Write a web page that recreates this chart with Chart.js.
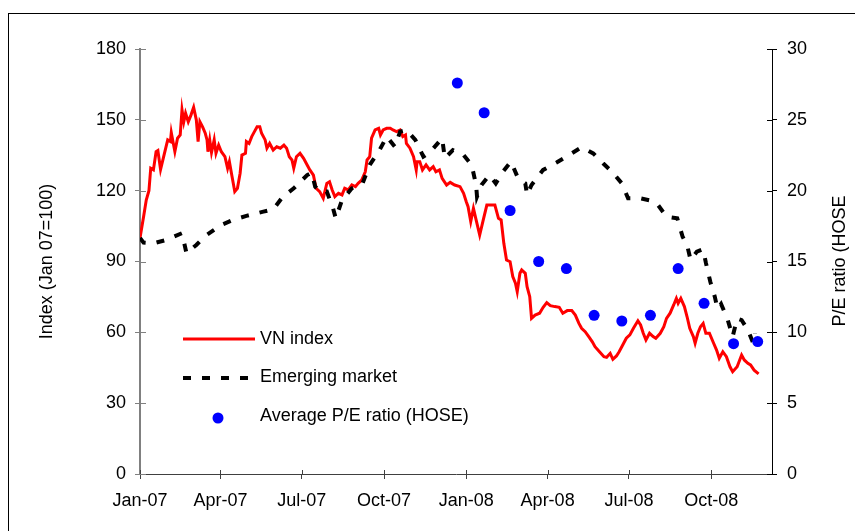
<!DOCTYPE html>
<html>
<head>
<meta charset="utf-8">
<script src="https://cdn.jsdelivr.net/npm/chart.js@4.4.1/dist/chart.umd.min.js"></script>
<style>
  html, body { margin: 0; padding: 0; background: #ffffff; }
  #c { display: block; }
</style>
</head>
<body>
<canvas id="c" width="855" height="531"></canvas>
<script>
// ---- Data (x = days since 1 Jan 2007) ----
const tickDays = [0, 90, 181, 273, 365, 456, 547, 639];
const tickLabels = ['Jan-07', 'Apr-07', 'Jul-07', 'Oct-07', 'Jan-08', 'Apr-08', 'Jul-08', 'Oct-08'];
const leftTicks = [0, 30, 60, 90, 120, 150, 180];
const rightTicks = [0, 5, 10, 15, 20, 25, 30];

const vnDays = [
  0,4,7,10,12,15,18,20,23,26,
  31,34,35,39,42,45,47,49,51,54,
  57,60,63,65,67,70,73,75,76,78,
  80,83,85,88,91,95,98,100,103,106,
  109,112,114,118,119,122,125,128,131,134,
  136,140,142,145,149,153,157,161,164,167,
  170,172,175,179,183,187,190,194,197,201,
  205,209,212,215,218,222,226,229,233,237,
  241,244,248,252,254,257,259,263,267,269,
  272,276,280,283,287,291,294,297,298,302,
  306,309,310,313,316,320,324,328,331,335,
  338,343,347,352,358,362,365,367,370,373,
  376,380,384,388,397,401,404,407,410,414,
  417,420,422,425,427,431,433,436,438,442,
  447,451,455,459,464,469,473,478,483,487,
  491,494,498,502,506,509,514,519,522,526,
  529,533,536,540,544,548,552,557,560,563,
  566,570,574,577,582,586,589,593,597,600,
  602,605,609,612,615,619,621,624,627,630,
  633,637,641,645,648,652,656,660,663,668,
  673,676,680,683,687,692
];
const vnValues = [
  100,109,116,120,129.5,128.8,136.5,137,129,133.7,
  141.5,140.8,144.6,136.5,142.2,143.6,154.2,149.2,152.8,149.2,
  152,155.3,150,140.8,149.2,147,144.3,141.5,136.5,141.5,
  136.2,141.5,135.8,139.3,136.5,134.4,129.5,132.3,125.9,119.6,
  121,127.4,135.1,135.8,140.8,140,142.9,145,147.1,147.1,
  144.3,141.5,138,140,137.2,138.6,138,139.3,138,134.4,
  133,129.5,134.4,135.8,133.7,130.9,128.8,126.6,121,119.6,
  116.8,123.1,123.8,120.3,117.5,118.9,118.2,121,120.3,122.4,
  121.7,123.1,124.5,128,133,134.4,142.2,145.7,146.4,143.6,
  145.7,146.4,146.4,145.7,145,145.7,142.9,143.6,140,138,
  134.4,128.8,132.3,132.3,128.8,130.9,128.8,130.2,128,128.8,
  125.2,122.4,123.5,122.4,121.7,118.9,115.3,113.2,106.9,112.5,
  107.6,101.2,107.6,113.9,113.9,108.3,107.6,97.7,90.6,89.9,
  83.6,80.8,77.2,85,86.4,85,79.3,75.1,65.9,67.3,
  68.1,70.6,72.6,71.3,70.9,70.6,68.1,69.2,69.2,67.3,
  63.8,61.7,60.3,58.2,56,53.9,51.8,49.7,49.4,51.1,
  48.6,50,51.8,54.6,57.5,58.9,61.7,64.9,63.1,59.6,
  56.8,59.6,58.2,57.5,59.6,62.4,65.9,68.1,71.6,74.4,
  72.3,74.4,70.9,66.6,61.7,58.2,55.4,59.6,62.4,63.8,
  59.6,59.6,56,52.5,49,51.8,49.7,45.4,43.3,45.4,
  50.4,48.3,46.9,46.2,44,42.4
];

const emDays = [
  0,4,15,29,47,52,63,73,91,104,
  119,138,149,160,172,187,192,196,201,209,
  216,219,226,237,249,257,268,276,285,291,
  298,308,317,324,338,341,350,362,371,376,
  377,382,391,398,406,415,423,431,433,438,
  451,466,480,494,507,518,528,539,546,559,
  571,578,589,601,607,612,616,623,630,633,
  638,643,646,650,657,663,668,673,680,686,
  688
];
const emValues = [
  100,98,97.7,99.1,102,93.5,97,100.8,105.5,107.6,
  109.3,111.1,112.1,117.5,121,126.6,127.6,121.7,119.6,119.6,
  112.5,108.3,116,121,123.1,130.9,137.2,142.9,138.6,145,
  145.7,141.5,134.4,136.1,142.2,133.7,137.2,135.1,130.9,122.4,
  117.5,122.4,126.6,123.1,128,132.3,125.2,123.1,118.2,122.4,
  128.8,131.9,135.1,138.4,135.8,131.6,128,123.1,116.8,116.8,
  115.8,114.7,109,108.3,100.5,97,90.6,94.2,95.2,89.5,
  81.4,75.1,70,72,65.9,58.2,65.9,65.2,61,55.4,
  59.6
];

const peDays = [355, 385, 414, 446, 477, 508, 539, 571, 602, 631, 664, 691];
const peValues = [27.6, 25.5, 18.6, 15.0, 14.5, 11.2, 10.8, 11.2, 14.5, 12.05, 9.2, 9.35];

const leftTitle = 'Index (Jan 07=100)';
const rightTitle = 'P/E ratio (HOSE';
const seriesNames = ['VN index', 'Emerging market', 'Average P/E ratio (HOSE)'];

// ---- Chart ----
const FONT = '"Liberation Sans", Arial, sans-serif';
Chart.defaults.font.family = FONT;
Chart.defaults.font.size = 18;
Chart.defaults.color = '#000000';

const toXY = (xs, ys) => xs.map((x, i) => ({ x: x, y: ys[i] }));

const innerTicks = {
  id: 'innerTicks',
  afterDraw(chart) {
    const ctx = chart.ctx;
    const sx = chart.scales.x, yl = chart.scales.y, yr = chart.scales.y1;
    ctx.save();
    ctx.lineWidth = 1;
    ctx.strokeStyle = '#808080';
    yl.ticks.forEach(t => {
      const p = Math.round(yl.getPixelForValue(t.value)) + 0.5;
      ctx.beginPath(); ctx.moveTo(yl.right, p); ctx.lineTo(yl.right + 6, p); ctx.stroke();
    });
    ctx.strokeStyle = '#000000';
    yr.ticks.forEach(t => {
      const p = Math.round(yr.getPixelForValue(t.value)) + 0.5;
      ctx.beginPath(); ctx.moveTo(yr.left, p); ctx.lineTo(yr.left - 5, p); ctx.stroke();
    });
    ctx.strokeStyle = '#404040';
    sx.ticks.forEach(t => {
      const p = Math.round(sx.getPixelForValue(t.value)) + 0.5;
      ctx.beginPath(); ctx.moveTo(p, sx.top); ctx.lineTo(p, sx.top - 4); ctx.stroke();
    });
    ctx.restore();
  }
};

const legendAndFrame = {
  id: 'legendAndFrame',
  afterDraw(chart) {
    const ctx = chart.ctx;
    const ds = chart.data.datasets;
    ctx.save();
    // outer frame
    ctx.strokeStyle = '#000000';
    ctx.lineWidth = 1;
    ctx.strokeRect(8.5, 13.5, 900, 600);
    // right axis title
    ctx.font = '18px ' + FONT;
    ctx.fillStyle = '#000000';
    ctx.save();
    ctx.translate(840, 261);
    ctx.rotate(-Math.PI / 2);
    ctx.textAlign = 'center';
    ctx.textBaseline = 'middle';
    ctx.fillText(rightTitle, 0, 0);
    ctx.restore();
    // legend
    const vn = ds.find(d => d.label === seriesNames[0]);
    const em = ds.find(d => d.label === seriesNames[1]);
    const pe = ds.find(d => d.label === seriesNames[2]);
    const x0 = 183, x1 = 255, tx = 260;
    ctx.textAlign = 'left';
    ctx.textBaseline = 'middle';
    ctx.lineCap = 'butt';
    ctx.strokeStyle = vn.borderColor; ctx.lineWidth = vn.borderWidth;
    ctx.beginPath(); ctx.moveTo(x0, 339); ctx.lineTo(x1, 339); ctx.stroke();
    ctx.fillText(vn.label, tx, 339);
    ctx.strokeStyle = em.borderColor; ctx.lineWidth = em.borderWidth;
    ctx.setLineDash(em.borderDash);
    ctx.beginPath(); ctx.moveTo(x0, 378); ctx.lineTo(x1, 378); ctx.stroke();
    ctx.setLineDash([]);
    ctx.fillText(em.label, tx, 377);
    ctx.fillStyle = pe.backgroundColor;
    ctx.beginPath(); ctx.arc(218, 418, pe.pointRadius, 0, Math.PI * 2); ctx.fill();
    ctx.fillStyle = '#000000';
    ctx.fillText(pe.label, tx, 416);
    ctx.restore();
  }
};

new Chart(document.getElementById('c'), {
  type: 'line',
  data: {
    datasets: [
      {
        label: seriesNames[2],
        data: toXY(peDays, peValues),
        yAxisID: 'y1',
        showLine: false,
        pointRadius: 5.5,
        pointHoverRadius: 5.5,
        pointBorderWidth: 0,
        backgroundColor: '#0000ff',
        borderColor: '#0000ff',
        order: 0
      },
      {
        label: seriesNames[1],
        data: toXY(emDays, emValues),
        yAxisID: 'y',
        borderColor: '#000000',
        borderWidth: 4,
        borderDash: [8, 11],
        pointRadius: 0,
        tension: 0,
        fill: false,
        order: 1
      },
      {
        label: seriesNames[0],
        data: toXY(vnDays, vnValues),
        yAxisID: 'y',
        borderColor: '#ff0000',
        borderWidth: 3,
        pointRadius: 0,
        tension: 0,
        fill: false,
        order: 2
      }
    ]
  },
  options: {
    responsive: false,
    animation: false,
    devicePixelRatio: 1,
    layout: { padding: { top: 49, left: 0, right: 0, bottom: 0 } },
    plugins: { legend: { display: false }, tooltip: { enabled: false } },
    scales: {
      x: {
        type: 'linear',
        min: 0,
        max: 707,
        afterBuildTicks: s => { s.ticks = tickDays.map(v => ({ value: v })); },
        afterFit: s => { s.height = 57; },
        ticks: {
          callback: (v, i) => tickLabels[i],
          autoSkip: false,
          maxRotation: 0,
          padding: 11,
          color: '#000000'
        },
        grid: { drawOnChartArea: false, drawTicks: true, tickLength: 5, color: '#404040' },
        border: { display: true, color: '#404040', width: 1 }
      },
      y: {
        position: 'left',
        min: 0,
        max: 180,
        afterBuildTicks: s => { s.ticks = leftTicks.map(v => ({ value: v })); },
        afterFit: s => { s.width = 140; },
        ticks: { padding: 9, color: '#000000' },
        title: { display: true, text: leftTitle, padding: { top: 36, bottom: 0 }, color: '#000000' },
        grid: { drawOnChartArea: false, drawTicks: true, tickLength: 5, color: '#808080' },
        border: { display: true, color: '#808080', width: 2 }
      },
      y1: {
        position: 'right',
        min: 0,
        max: 30,
        afterBuildTicks: s => { s.ticks = rightTicks.map(v => ({ value: v })); },
        afterFit: s => { s.width = 83; },
        ticks: { padding: 10, color: '#000000' },
        grid: { drawOnChartArea: false, drawTicks: true, tickLength: 5, color: '#000000' },
        border: { display: true, color: '#000000', width: 1 }
      }
    }
  },
  plugins: [innerTicks, legendAndFrame]
});
</script>
</body>
</html>
